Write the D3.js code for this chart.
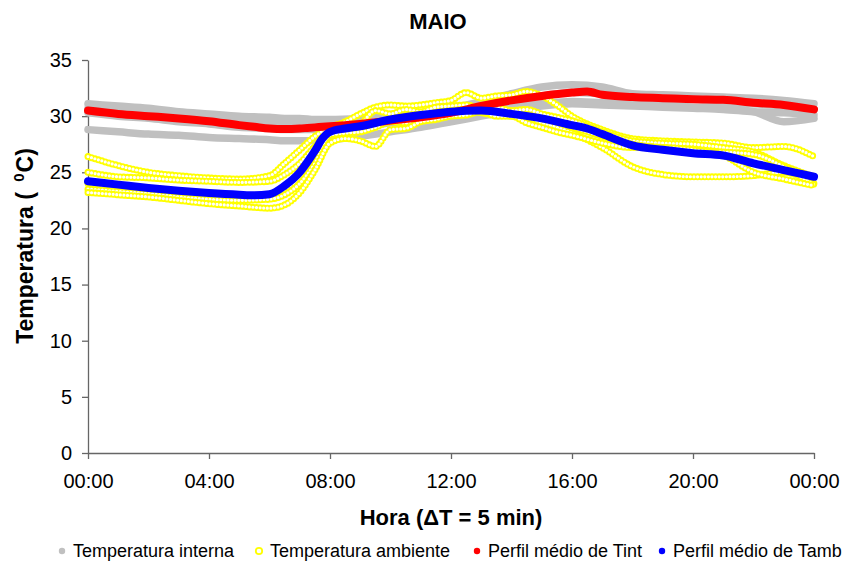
<!DOCTYPE html>
<html lang="pt">
<head>
<meta charset="utf-8">
<script src="https://d3js.org/d3.v7.min.js"></script>
<title>MAIO</title>
<style>
    body { margin: 0; background: #fff; }
    svg text { font-family: Arial, "Liberation Sans", sans-serif; }
</style>
</head>
<body>
<div id="container"></div>
<script>
    const horasInt = [0,1,2,3,4,5,6,6.5,7,7.5,8,9,10,11,12,13,14,15,16,17,18,19,20,21,22,23,24];

    // Temperatura interna (um array por dia)
    const tInt1 = [31.1,30.9,30.7,30.4,30.2,30.0,29.9,29.8,29.8,29.7,29.7,29.8,30.0,30.3,30.7,31.3,32.0,32.6,32.8,32.6,32.0,31.9,31.8,31.7,31.6,31.4,31.1];
    const tInt2 = [30.7,30.5,30.3,30.1,29.9,29.6,29.4,29.3,29.3,29.3,29.4,29.6,29.9,30.2,30.5,30.9,31.4,31.8,32.1,32.0,31.8,31.6,31.5,31.3,31.1,30.9,30.6];
    const tInt3 = [30.3,30.0,29.8,29.5,29.3,29.0,28.9,28.8,28.8,28.8,28.9,29.1,29.4,29.7,30.0,30.4,30.8,31.1,31.3,31.2,31.1,31.0,30.8,30.7,30.4,29.5,29.8];
    const tInt4 = [28.8,28.6,28.4,28.3,28.1,28.0,27.9,27.8,27.8,27.8,27.9,28.2,28.6,29.0,29.5,30.0,30.5,30.9,31.1,31.0,30.9,30.8,30.7,30.6,30.4,30.3,30.1];

    // Temperatura ambiente (um array por dia)
    const horasAmb = [0,1,2,3,4,5,6,6.5,7,7.5,8,8.5,9,9.5,10,10.5,11,11.5,12,12.5,13,13.5,14,14.5,15,15.5,16,17,18,19,20,21,22,23,24];
    const tAmb1 = [26.4,25.6,25.0,24.7,24.5,24.4,24.7,25.8,27.0,28.2,29.0,29.5,30.2,30.8,31.0,30.9,31.0,31.2,31.4,32.1,31.6,31.8,31.9,32.2,31.8,31.0,30.0,28.8,28.0,27.8,27.7,27.6,27.2,27.3,26.4];
    const tAmb2 = [25.0,24.6,24.5,24.3,24.2,24.1,24.2,24.8,25.8,27.3,28.6,29.0,29.3,30.5,30.2,30.6,30.4,30.8,30.9,31.0,30.7,30.8,30.5,30.6,30.2,29.9,29.6,28.6,27.8,27.6,27.5,27.2,26.8,25.6,24.6];
    const tAmb3 = [24.0,23.7,23.5,23.2,23.0,22.9,23.0,23.5,24.5,26.5,28.5,29.1,29.2,29.4,29.6,30.0,30.2,30.1,30.5,30.6,30.3,30.1,30.0,29.8,29.5,29.3,29.0,28.2,27.5,27.2,26.9,26.8,26.6,25.5,24.0];
    const tAmb4 = [23.5,23.3,23.1,22.8,22.6,22.5,22.6,23.0,24.0,25.8,28.3,28.5,28.6,29.0,29.5,29.4,29.8,30.0,30.2,30.4,30.6,30.3,30.2,29.9,29.4,29.0,28.5,27.2,25.5,24.8,24.6,24.6,24.7,25.0,23.9];
    const tAmb5 = [23.2,23.0,22.8,22.5,22.2,22.0,21.8,22.1,23.2,25.2,27.6,28.0,27.8,27.3,28.8,28.9,29.5,29.7,30.0,30.1,30.4,30.0,30.0,29.4,29.0,28.6,28.3,27.6,27.2,27.2,27.0,26.5,25.0,24.4,23.8];

    // perfis médios
    const horasPerfil = [0,1,2,3,4,5,5.5,6,6.5,7,7.25,7.5,7.75,8,8.5,9,10,11,12,13,14,15,16,16.5,17,18,19,20,21,22,23,24];
    const perfilTint = [30.5,30.2,30.0,29.8,29.55,29.2,29.05,28.9,28.85,28.9,28.95,29.0,29.05,29.1,29.2,29.3,29.6,29.9,30.3,30.9,31.4,31.8,32.1,32.2,31.9,31.7,31.6,31.5,31.45,31.2,31.0,30.6];
    const perfilTamb = [24.2,23.9,23.6,23.35,23.15,23.0,22.95,23.05,23.8,25.0,25.9,26.9,28.0,28.6,28.9,29.1,29.7,30.1,30.4,30.5,30.2,29.8,29.2,28.9,28.4,27.4,27.0,26.7,26.5,25.8,25.2,24.6];

    const yTicks = [0,5,10,15,20,25,30,35];
    const xTicks = [0,4,8,12,16,20,24];
    const xTickLabels = ["00:00","04:00","08:00","12:00","16:00","20:00","00:00"];
    const legendNames = ["Temperatura interna","Temperatura ambiente","Perfil médio de Tint","Perfil médio de Tamb"];

    const w = 850;
    const h = 564;

    const svg = d3.select("#container").append("svg").attr("width", w).attr("height", h);

    const xScale = d3.scaleLinear().domain([0, 24]).range([88, 814]);
    const yScale = d3.scaleLinear().domain([0, 35]).range([453, 60]);

    const line = (xs) => d3.line()
        .x((d, i) => xScale(xs[i]))
        .y(d => yScale(d))
        .curve(d3.curveMonotoneX);

    // <!-- AXES -->
    const xAxis = d3.axisBottom(xScale).tickValues(xTicks).tickSize(6).tickSizeOuter(0).tickPadding(15)
        .tickFormat((d, i) => xTickLabels[i]);
    const yAxis = d3.axisLeft(yScale).tickValues(yTicks).tickSize(6).tickSizeOuter(0).tickPadding(10);

    const gx = svg.append("g").attr("transform", "translate(0,453)").call(xAxis);
    const gy = svg.append("g").attr("transform", "translate(88,0)").call(yAxis);
    [gx, gy].forEach(g => {
        g.selectAll("path, line").attr("stroke", "#666").attr("stroke-width", 1.3);
        g.selectAll("text").attr("fill", "#000").style("font-size", "20px");
    });

    // <!-- SERIES -->
    const plot = svg.append("g");

    [tInt1, tInt2, tInt3, tInt4].forEach(s => {
        plot.append("path").attr("d", line(horasInt)(s))
            .attr("fill", "none").attr("stroke", "#c0c0c0")
            .attr("stroke-width", 7.5).attr("stroke-linejoin", "round").attr("stroke-linecap", "round");
    });

    // hollow yellow markers: round-capped zero dashes along the line
    [tAmb1, tAmb2, tAmb3, tAmb4, tAmb5].forEach(s => {
        const d = line(horasAmb)(s);
        plot.append("path").attr("d", d).attr("fill", "none").attr("stroke", "#ffff00")
            .attr("stroke-width", 7).attr("stroke-linecap", "round").attr("stroke-dasharray", "0 3.6");
        plot.append("path").attr("d", d).attr("fill", "none").attr("stroke", "#fff")
            .attr("stroke-width", 3.2).attr("stroke-linecap", "round").attr("stroke-dasharray", "0 3.6");
    });

    plot.append("path").attr("d", line(horasPerfil)(perfilTint))
        .attr("fill", "none").attr("stroke", "#ff0000").attr("stroke-width", 8)
        .attr("stroke-linejoin", "round").attr("stroke-linecap", "round");
    plot.append("path").attr("d", line(horasPerfil)(perfilTamb))
        .attr("fill", "none").attr("stroke", "#0000ff").attr("stroke-width", 8)
        .attr("stroke-linejoin", "round").attr("stroke-linecap", "round");

    // <!-- TITLES -->
    svg.append("text").attr("x", 438).attr("y", 29).attr("text-anchor", "middle")
        .style("font-size", "22px").style("font-weight", "bold").text("MAIO");

    svg.append("text").attr("x", 451).attr("y", 525).attr("text-anchor", "middle")
        .style("font-size", "22px").style("font-weight", "bold").text("Hora (\u0394T = 5 min)");

    const ylab = svg.append("text").attr("transform", "translate(33,246) rotate(-90)")
        .attr("text-anchor", "middle").style("font-size", "23px").style("font-weight", "bold");
    ylab.append("tspan").text("Temperatura ( ");
    ylab.append("tspan").attr("dy", -9).attr("dx", 4).style("font-size", "15px").text("0");
    ylab.append("tspan").attr("dy", 9).attr("dx", 1).style("font-size", "23px").text("C)");

    // <!-- LEGEND -->
    const legendX = [62, 259, 477, 662];
    const legend = svg.append("g");
    legendNames.forEach((name, i) => {
        const g = legend.append("g");
        const c = g.append("circle").attr("cx", legendX[i]).attr("cy", 551).attr("r", 3.2);
        if (i === 0) c.attr("fill", "#c0c0c0");
        if (i === 1) c.attr("fill", "#fff").attr("stroke", "#ffff00").attr("stroke-width", 1.8);
        if (i === 2) c.attr("fill", "#ff0000");
        if (i === 3) c.attr("fill", "#0000ff");
        g.append("text").attr("x", legendX[i] + 11).attr("y", 557).style("font-size", "18px").text(name);
    });
</script>
</body>
</html>
